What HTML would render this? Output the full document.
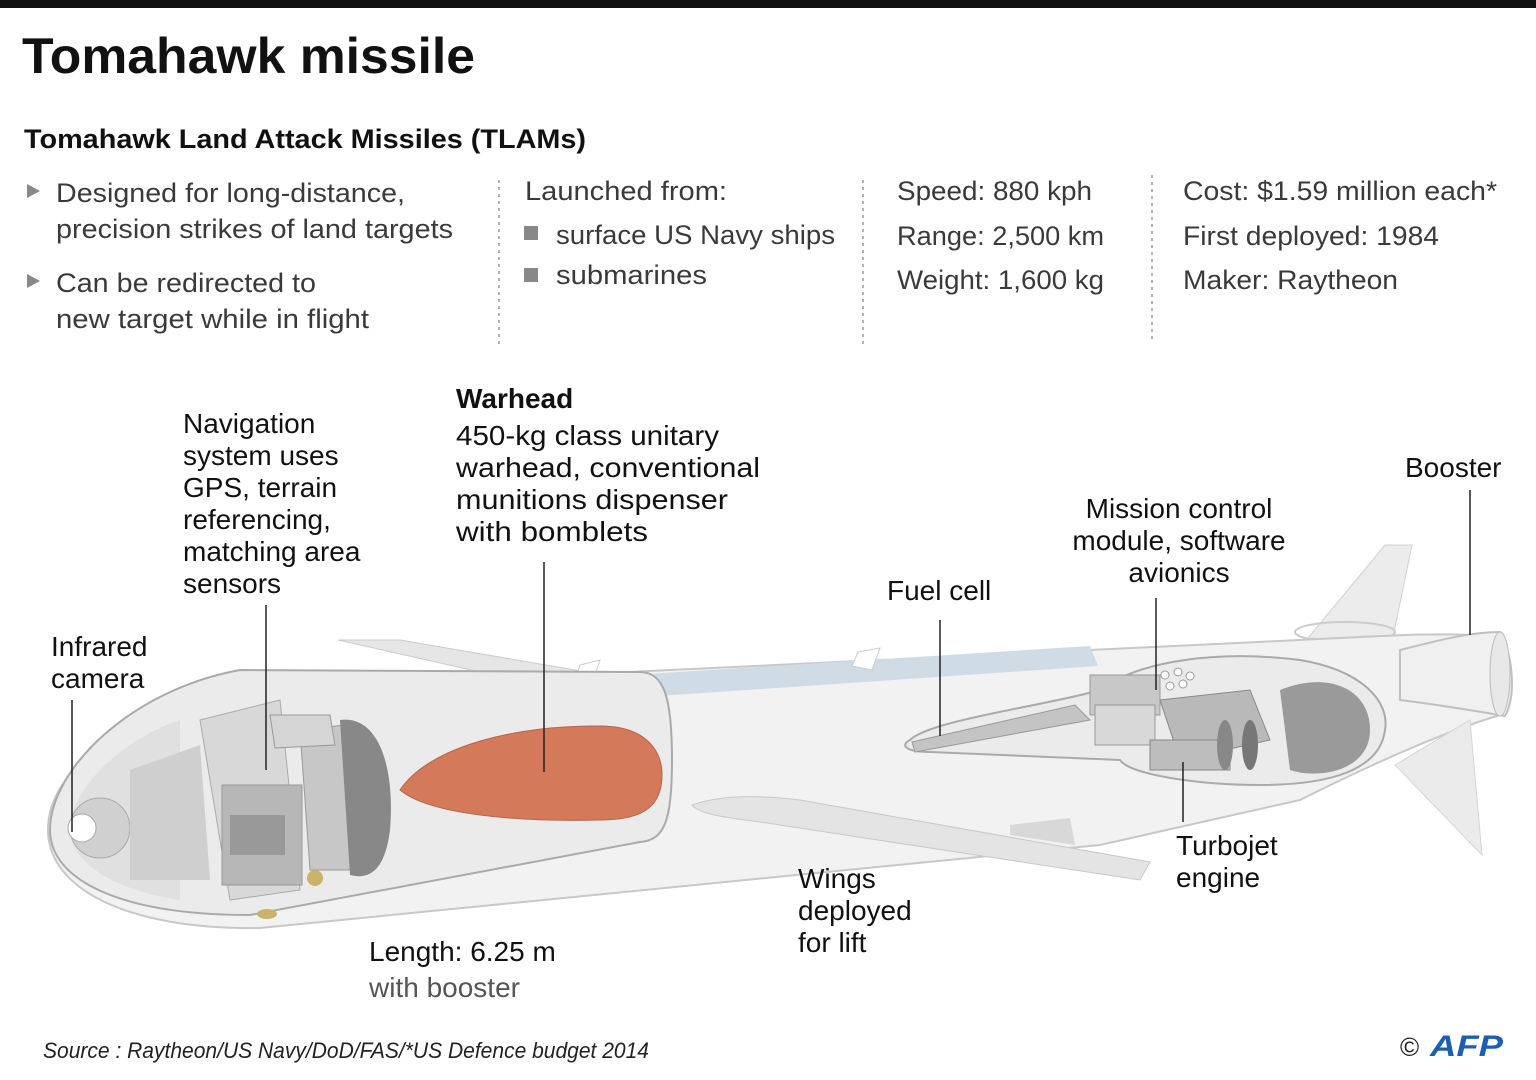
<!DOCTYPE html>
<html><head><meta charset="utf-8"><style>
html,body{margin:0;padding:0;background:#fff;}
svg{display:block;}
text{font-family:"Liberation Sans",sans-serif;}
.c{fill:#3a3a3a;font-size:27px;}
.l{fill:#111;font-size:28px;}
</style></head><body>
<svg width="1536" height="1080" viewBox="0 0 1536 1080" xmlns="http://www.w3.org/2000/svg">
<rect x="0" y="0" width="1536" height="8" fill="#111"/>
<text x="22" y="73" font-size="50" font-weight="bold" fill="#111" textLength="453" lengthAdjust="spacingAndGlyphs">Tomahawk missile</text>
<text x="24" y="148" font-size="27" font-weight="bold" fill="#111" textLength="562" lengthAdjust="spacingAndGlyphs">Tomahawk Land Attack Missiles (TLAMs)</text>

<polygon points="27,184 40,191 27,198" fill="#888"/>
<polygon points="27,274 40,281 27,288" fill="#888"/>
<text class="c" x="56" y="202" textLength="349" lengthAdjust="spacingAndGlyphs">Designed for long-distance,</text>
<text class="c" x="56" y="238" textLength="397" lengthAdjust="spacingAndGlyphs">precision strikes of land targets</text>
<text class="c" x="56" y="292" textLength="260" lengthAdjust="spacingAndGlyphs">Can be redirected to</text>
<text class="c" x="56" y="328" textLength="313" lengthAdjust="spacingAndGlyphs">new target while in flight</text>

<line x1="499" y1="180" x2="499" y2="345" stroke="#999" stroke-width="1.5" stroke-dasharray="3,4"/>
<line x1="863" y1="180" x2="863" y2="345" stroke="#999" stroke-width="1.5" stroke-dasharray="3,4"/>
<line x1="1152" y1="175" x2="1152" y2="340" stroke="#999" stroke-width="1.5" stroke-dasharray="3,4"/>

<text class="c" x="525" y="200" textLength="202" lengthAdjust="spacingAndGlyphs">Launched from:</text>
<rect x="524" y="226" width="14" height="14" fill="#888"/>
<rect x="524" y="268" width="14" height="14" fill="#888"/>
<text class="c" x="556" y="244" textLength="279" lengthAdjust="spacingAndGlyphs">surface US Navy ships</text>
<text class="c" x="556" y="284" textLength="151" lengthAdjust="spacingAndGlyphs">submarines</text>

<text class="c" x="897" y="200" textLength="195" lengthAdjust="spacingAndGlyphs">Speed: 880 kph</text>
<text class="c" x="897" y="245" textLength="207" lengthAdjust="spacingAndGlyphs">Range: 2,500 km</text>
<text class="c" x="897" y="289" textLength="207" lengthAdjust="spacingAndGlyphs">Weight: 1,600 kg</text>

<text class="c" x="1183" y="200" textLength="314" lengthAdjust="spacingAndGlyphs">Cost: $1.59 million each*</text>
<text class="c" x="1183" y="245" textLength="256" lengthAdjust="spacingAndGlyphs">First deployed: 1984</text>
<text class="c" x="1183" y="289" textLength="215" lengthAdjust="spacingAndGlyphs">Maker: Raytheon</text>

<!-- missile -->
<!-- top left fin -->
<path d="M338,640 L400,640 L610,676 L560,690 Z" fill="#e6e6e6" stroke="#ccc"/>
<!-- rear top fin -->
<path d="M1308,638 L1385,545 L1412,545 L1392,642 Z" fill="#ececec" stroke="#d0d0d0"/>
<ellipse cx="1345" cy="632" rx="50" ry="10" fill="none" stroke="#ccc" stroke-width="2"/>
<!-- body -->
<path d="M250,690 L1300,640 C1380,636 1440,632 1490,636 L1500,715 C1450,730 1380,760 1300,800 L1100,845 L260,928 C130,930 48,890 48,830 C48,770 120,715 250,690 Z" fill="#f2f2f2" stroke="#c8c8c8" stroke-width="2"/>
<!-- blue strip -->
<path d="M615,676 L1090,646 L1098,666 L630,698 Z" fill="#cfdce6"/>
<path d="M580,665 L600,660 L592,684 L575,680 Z" fill="#fff" stroke="#ccc"/>
<path d="M858,652 L880,648 L872,670 L852,666 Z" fill="#fff" stroke="#ccc"/>
<!-- bottom rear fin -->
<path d="M1395,765 L1482,855 L1470,720 Z" fill="#ebebeb" stroke="#d5d5d5"/>
<!-- booster nozzle -->
<path d="M1400,650 C1440,640 1470,632 1500,632 C1515,660 1515,700 1505,716 C1470,710 1440,705 1400,700 Z" fill="#f0f0f0" stroke="#c0c0c0" stroke-width="2"/>
<ellipse cx="1500" cy="674" rx="10" ry="42" fill="#e8e8e8" stroke="#bbb"/>
<!-- forward cutout -->
<path d="M240,670 L640,672 C665,672 672,700 672,760 C672,820 665,840 640,842 L250,915 C120,915 50,880 50,830 C50,770 130,690 240,670 Z" fill="#ebebeb" stroke="#aaa" stroke-width="2"/>
<path d="M70,830 C70,790 120,740 180,720 L180,900 C110,890 70,860 70,830 Z" fill="#e0e0e0"/>
<circle cx="100" cy="828" r="30" fill="#d0d0d0" stroke="#aaa"/>
<circle cx="82" cy="828" r="14" fill="#fff" stroke="#aaa"/>
<path d="M130,770 L200,745 L210,880 L130,880 Z" fill="#cfcfcf"/>
<path d="M200,720 L280,700 L300,890 L230,900 Z" fill="#d8d8d8" stroke="#aaa"/>
<rect x="222" y="785" width="80" height="100" fill="#b7b7b7" stroke="#999"/>
<rect x="230" y="815" width="55" height="40" fill="#999"/>
<path d="M300,730 L345,725 L360,760 L350,870 L310,870 Z" fill="#c7c7c7" stroke="#999"/>
<path d="M270,715 L330,715 L335,745 L275,748 Z" fill="#d5d5d5" stroke="#999"/>
<path d="M340,720 C380,715 395,770 390,830 C385,870 370,880 350,875 Z" fill="#888"/>
<circle cx="315" cy="878" r="8" fill="#c9b26a"/>
<ellipse cx="267" cy="914" rx="10" ry="5" fill="#c9b26a"/>
<!-- warhead -->
<path d="M400,790 C430,745 520,725 600,726 C645,726 662,750 662,775 C662,805 645,820 600,820 C520,822 430,815 400,790 Z" fill="#d47a5a" stroke="#b8654a"/>
<!-- wing -->
<path d="M692,805 C720,795 760,795 800,800 L1150,862 L1140,880 L760,822 C730,818 700,815 692,805 Z" fill="#e4e4e4" stroke="#c8c8c8"/>
<path d="M1010,825 L1070,818 L1075,845 L1010,835 Z" fill="#d8d8d8"/>
<!-- rear cutout -->
<path d="M910,740 C930,720 1050,705 1100,690 C1140,660 1220,650 1300,660 C1360,670 1390,700 1385,730 C1380,770 1330,785 1260,785 C1200,785 1130,775 1120,760 L930,752 C905,752 900,745 910,740 Z" fill="#ebebeb" stroke="#aaa" stroke-width="2"/>
<path d="M912,742 L1075,705 L1090,720 L915,752 Z" fill="#c4c4c4" stroke="#999"/>
<rect x="1090" y="675" width="70" height="40" fill="#c8c8c8" stroke="#999"/>
<rect x="1095" y="705" width="60" height="40" fill="#d8d8d8" stroke="#999"/>
<circle cx="1165" cy="675" r="4" fill="#fff" stroke="#999"/><circle cx="1178" cy="672" r="4" fill="#fff" stroke="#999"/><circle cx="1190" cy="676" r="4" fill="#fff" stroke="#999"/><circle cx="1170" cy="686" r="4" fill="#fff" stroke="#999"/><circle cx="1183" cy="684" r="4" fill="#fff" stroke="#999"/>
<path d="M1160,700 L1250,690 L1270,740 L1180,760 Z" fill="#b9b9b9" stroke="#888"/>
<path d="M1280,690 C1330,670 1370,690 1370,730 C1370,770 1320,780 1290,770 Z" fill="#9a9a9a"/>
<rect x="1150" y="740" width="80" height="30" fill="#bdbdbd" stroke="#888"/>
<ellipse cx="1225" cy="745" rx="8" ry="25" fill="#888"/>
<ellipse cx="1250" cy="745" rx="8" ry="25" fill="#777"/>

<!-- leader lines -->
<g stroke="#222" stroke-width="1.5">
<line x1="72" y1="700" x2="72" y2="832"/>
<line x1="266" y1="605" x2="266" y2="770"/>
<line x1="544" y1="562" x2="544" y2="772"/>
<line x1="940" y1="620" x2="940" y2="736"/>
<line x1="1156" y1="598" x2="1156" y2="690"/>
<line x1="1183" y1="762" x2="1183" y2="822"/>
<line x1="1470" y1="490" x2="1470" y2="635"/>
</g>

<!-- labels -->
<text class="l" x="51" y="656">Infrared</text>
<text class="l" x="51" y="688">camera</text>
<text class="l" x="183" y="433">Navigation</text>
<text class="l" x="183" y="465">system uses</text>
<text class="l" x="183" y="497">GPS, terrain</text>
<text class="l" x="183" y="529">referencing,</text>
<text class="l" x="183" y="561">matching area</text>
<text class="l" x="183" y="593">sensors</text>
<text class="l" x="456" y="408" font-weight="bold">Warhead</text>
<text class="l" x="456" y="445" textLength="263" lengthAdjust="spacingAndGlyphs">450-kg class unitary</text>
<text class="l" x="456" y="477" textLength="304" lengthAdjust="spacingAndGlyphs">warhead, conventional</text>
<text class="l" x="456" y="509" textLength="272" lengthAdjust="spacingAndGlyphs">munitions dispenser</text>
<text class="l" x="456" y="541" textLength="192" lengthAdjust="spacingAndGlyphs">with bomblets</text>
<text class="l" x="887" y="600">Fuel cell</text>
<text class="l" x="1179" y="518" text-anchor="middle">Mission control</text>
<text class="l" x="1179" y="550" text-anchor="middle">module, software</text>
<text class="l" x="1179" y="582" text-anchor="middle">avionics</text>
<text class="l" x="1405" y="477">Booster</text>
<text class="l" x="1176" y="855">Turbojet</text>
<text class="l" x="1176" y="887">engine</text>
<text class="l" x="798" y="888">Wings</text>
<text class="l" x="798" y="920">deployed</text>
<text class="l" x="798" y="952">for lift</text>
<text class="l" x="369" y="961">Length: 6.25 m</text>
<text x="369" y="997" font-size="28" fill="#555">with booster</text>

<text x="43" y="1058" font-size="22" font-style="italic" fill="#222" textLength="606" lengthAdjust="spacingAndGlyphs">Source : Raytheon/US Navy/DoD/FAS/*US Defence budget 2014</text>
<text x="1400" y="1056" font-size="26" fill="#222">©</text>
<text x="1430" y="1056" font-size="30" font-weight="bold" font-style="italic" fill="#1b5eb5" textLength="73" lengthAdjust="spacingAndGlyphs">AFP</text>
</svg>
</body></html>
